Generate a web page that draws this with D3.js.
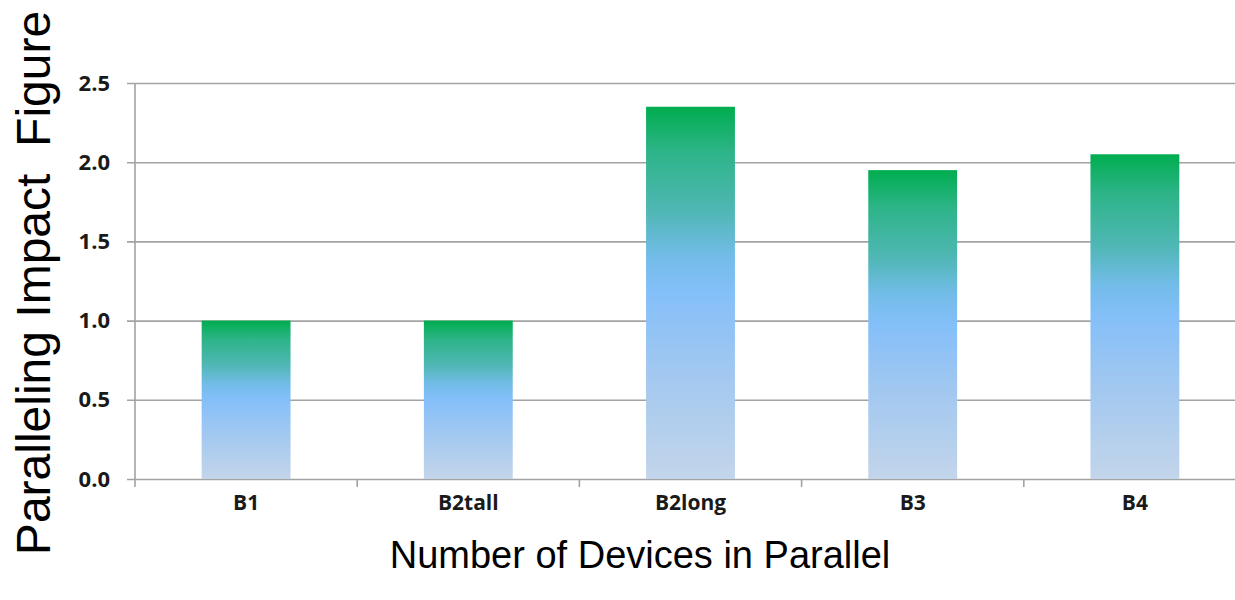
<!DOCTYPE html>
<html>
<head>
<meta charset="utf-8">
<script src="https://cdn.jsdelivr.net/npm/d3@7"></script>
<style>
  html, body { margin: 0; padding: 0; background: #fff; }
  svg { display: block; }
</style>
</head>
<body>
<svg id="chart" width="1235" height="600"></svg>
<script>
// Paralleling impact per device configuration
const categories = ["B1", "B2tall", "B2long", "B3", "B4"];
const impactValues = [1.0, 1.0, 2.35, 1.95, 2.05];
const yTickValues = [0.0, 0.5, 1.0, 1.5, 2.0, 2.5];

const svg = d3.select("#chart");
const plot = { left: 135, right: 1246, top: 83, bottom: 479 };

const x = d3.scaleBand()
  .domain(categories)
  .range([plot.left, plot.right])
  .paddingInner(0.6)
  .paddingOuter(0.3);

const y = d3.scaleLinear()
  .domain([0, 2.5])
  .range([plot.bottom, plot.top]);

// Vertical gradient: green at the top of each bar fading to pale blue
const defs = svg.append("defs");
const grad = defs.append("linearGradient")
  .attr("id", "barFill")
  .attr("x1", 0).attr("y1", 0).attr("x2", 0).attr("y2", 1);
[
  [0.00, "#00ad4f"],
  [0.12, "#2db488"],
  [0.28, "#4fb7b4"],
  [0.40, "#72bce8"],
  [0.50, "#84bff9"],
  [0.72, "#a2c8f0"],
  [1.00, "#c3d5ea"]
].forEach(([o, c]) => grad.append("stop").attr("offset", o).attr("stop-color", c));

const labelFont = "'Open Sans', 'Liberation Sans', sans-serif";

// Horizontal gridlines with short outside ticks
svg.append("g")
  .attr("transform", `translate(${plot.left},0)`)
  .call(d3.axisLeft(y)
    .tickValues(yTickValues)
    .tickSize(-(1235 - plot.left))
    .tickSizeOuter(0)
    .tickPadding(25)
    .tickFormat(d3.format(".1f")))
  .call(g => g.select(".domain").remove())
  .call(g => g.selectAll(".tick line")
    .attr("x1", -8)
    .attr("stroke", "#a3a3a3")
    .attr("stroke-width", 1.6))
  .call(g => g.selectAll(".tick text")
    .attr("fill", "#1a1a1a")
    .attr("font-family", labelFont)
    .attr("font-weight", "bold")
    .attr("font-size", 22));

// Vertical axis line
svg.append("line")
  .attr("x1", plot.left).attr("x2", plot.left)
  .attr("y1", plot.top).attr("y2", plot.bottom + 8)
  .attr("stroke", "#a3a3a3").attr("stroke-width", 1.6);

// Category boundary ticks below the baseline
const step = x.step();
const boundaries = d3.range(1, categories.length).map(i => plot.left + i * step);
svg.append("g").selectAll("line")
  .data(boundaries)
  .join("line")
  .attr("x1", d => d).attr("x2", d => d)
  .attr("y1", plot.bottom).attr("y2", plot.bottom + 8)
  .attr("stroke", "#a3a3a3").attr("stroke-width", 1.6);

// Bars
svg.append("g").selectAll("rect")
  .data(categories.map((c, i) => ({ c, v: impactValues[i] })))
  .join("rect")
  .attr("x", d => x(d.c))
  .attr("width", x.bandwidth())
  .attr("y", d => y(d.v))
  .attr("height", d => y(0) - y(d.v))
  .attr("fill", "url(#barFill)");

// Category labels
svg.append("g").selectAll("text")
  .data(categories)
  .join("text")
  .attr("x", d => x(d) + x.bandwidth() / 2)
  .attr("y", 510)
  .attr("text-anchor", "middle")
  .attr("fill", "#1a1a1a")
  .attr("font-family", labelFont)
  .attr("font-weight", "bold")
  .attr("font-size", 21)
  .text(d => d);

// Axis titles
svg.append("text")
  .attr("x", 640)
  .attr("y", 568)
  .attr("text-anchor", "middle")
  .attr("fill", "#000")
  .attr("font-family", "'Liberation Sans', Arial, sans-serif")
  .attr("font-size", 38)
  .text("Number of Devices in Parallel");

svg.append("text")
  .attr("transform", "translate(50,283) rotate(-90)")
  .attr("text-anchor", "middle")
  .attr("fill", "#000")
  .attr("font-family", "'Liberation Sans', Arial, sans-serif")
  .attr("font-size", 48)
  .attr("xml:space", "preserve")
  .text("Paralleling Impact  Figure");
</script>
</body>
</html>
